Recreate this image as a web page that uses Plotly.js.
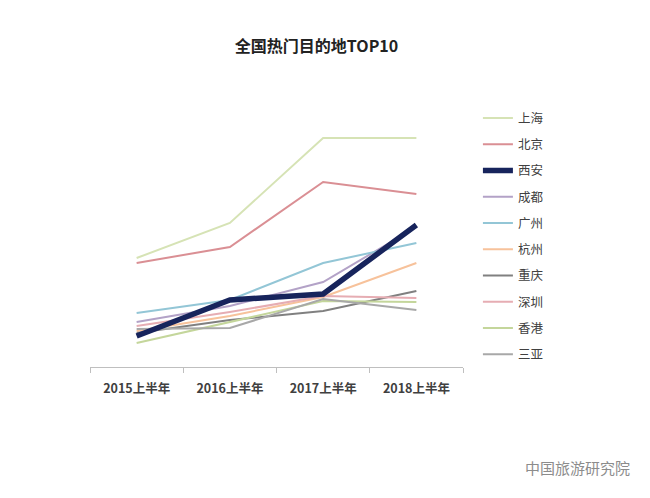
<!DOCTYPE html>
<html>
<head>
<meta charset="utf-8">
<script src="https://cdn.plot.ly/plotly-3.0.1.min.js"></script>
<style>
  html, body { margin: 0; padding: 0; background: #fff; }
  #plot { width: 650px; height: 498px; }
</style>
</head>
<body>
<div id="plot"></div>
<script>
// half-year periods
const periods = ["2015上半年", "2016上半年", "2017上半年", "2018上半年"];

// index values (no y axis shown)
const shanghai  = [109, 144, 229, 229];
const beijing   = [104, 120, 185, 173];
const xian      = [31, 67, 73, 142];
const chengdu   = [45, 61, 85, 140];
const guangzhou = [54, 67, 104, 124];
const hangzhou  = [36, 51, 70, 104];
const chongqing = [34, 47, 56, 76];
const shenzhen  = [41, 55, 71, 69];
const hongkong  = [24, 45, 66, 65];
const sanya     = [38, 39, 68, 57];

const cities = ["上海", "北京", "西安", "成都", "广州", "杭州", "重庆", "深圳", "香港", "三亚"];
const values = [shanghai, beijing, xian, chengdu, guangzhou, hangzhou, chongqing, shenzhen, hongkong, sanya];
const colors = ["#d6e3b5", "#da8f94", "#17245c", "#b3a2c7", "#93c6d6",
                "#f7c29b", "#808080", "#e6adb3", "#c4d69b", "#a8a8a8"];

// draw order: thick 西安 line on top
const order = [0, 1, 3, 4, 5, 6, 7, 8, 9, 2];

const traces = cities.map((name, i) => ({
    type: "scatter",
    mode: "lines",
    name: name,
    x: periods,
    y: values[i],
    line: { color: colors[i], width: name === "西安" ? 5.5 : 2 },
    legendgroup: "g" + i,   // one group each, so tracegroupgap spaces the rows
    legendrank: i + 1,
    hoverinfo: "skip"
}));

const data = order.map(i => traces[i]);

Plotly.newPlot("plot", data, {
    width: 650,
    height: 498,
    margin: { l: 90, r: 187, t: 110, b: 131 },
    paper_bgcolor: "#fff",
    plot_bgcolor: "#fff",
    font: { family: "Noto Sans CJK SC, sans-serif", color: "#404040" },
    title: {
        text: "全国热门目的地TOP10",
        font: { size: 16, weight: "bold", color: "#222" },
        xref: "container", x: 0.487,
        yref: "container", y: 0.906, yanchor: "middle"
    },
    xaxis: {
        type: "category",
        range: [-0.5, 3.5],
        showgrid: false,
        zeroline: false,
        showline: true,
        linecolor: "#bfbfbf",
        linewidth: 1,
        ticks: "outside",
        tickson: "boundaries",
        ticklen: 5,
        tickcolor: "#bfbfbf",
        ticklabelstandoff: 10,
        tickfont: { size: 12.5, weight: "bold", color: "#404040" },
        fixedrange: true
    },
    yaxis: {
        range: [0, 257],
        visible: false,
        fixedrange: true
    },
    showlegend: true,
    legend: {
        x: 1.04, xanchor: "left",
        y: 1.026, yanchor: "top",
        maxheight: 450,
        font: { size: 12.5, color: "#404040" },
        tracegroupgap: 7,
        traceorder: "grouped",
        bgcolor: "rgba(0,0,0,0)"
    },
    annotations: [{
        text: "中国旅游研究院",
        xref: "paper", yref: "paper",
        x: 1.162, y: -0.39,
        xanchor: "left", yanchor: "middle",
        showarrow: false,
        font: { size: 15, color: "#8c8c8c" }
    }]
}, { displayModeBar: false, staticPlot: true });
</script>
</body>
</html>
